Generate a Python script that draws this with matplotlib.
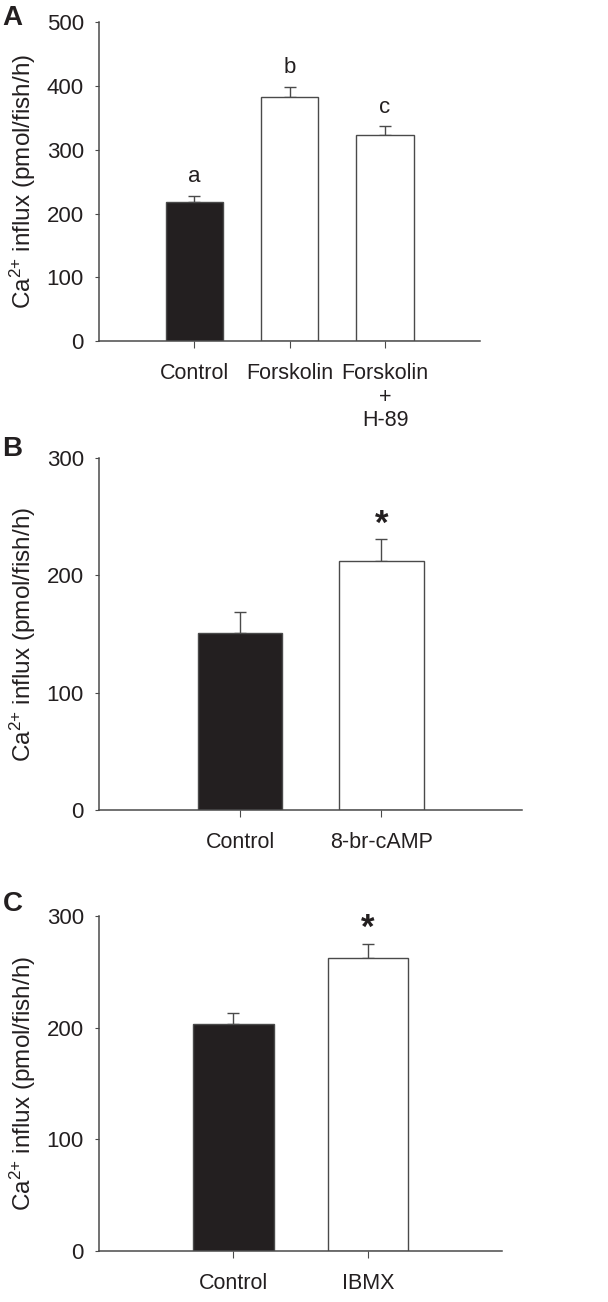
import matplotlib.pyplot as plt
import numpy as np

plt.rcParams["font.family"] = ["Liberation Sans", "DejaVu Sans"]
plt.rcParams["mathtext.fontset"] = "custom"
plt.rcParams["mathtext.rm"] = "Liberation Sans"
plt.rcParams["mathtext.it"] = "Liberation Sans:italic"

INK = "#231f20"
EDGE = "#4a4a4a"

# panel A
a_labels = ["Control", "Forskolin", "Forskolin\n+\nH-89"]
a_means = [218, 382, 323]
a_sem = [10, 17, 14]
a_marks = ["a", "b", "c"]
a_colors = [INK, "white", "white"]

# panel B
b_labels = ["Control", "8-br-cAMP"]
b_means = [151, 212]
b_sem = [18, 19]
b_marks = ["", "*"]
b_colors = [INK, "white"]

# panel C
c_labels = ["Control", "IBMX"]
c_means = [203, 262]
c_sem = [10, 13]
c_marks = ["", "*"]
c_colors = [INK, "white"]

YLABEL = r"Ca$^{2{+}}$ influx (pmol/fish/h)"


def draw_panel(ax, labels, means, sem, marks, colors, ymax, ystep):
    x = np.arange(1, len(labels) + 1)
    ax.bar(x, means, width=0.6, color=colors, edgecolor=EDGE, linewidth=1.0, zorder=2)
    ax.errorbar(x, means, yerr=[np.zeros(len(sem)), sem], fmt="none",
                ecolor=EDGE, elinewidth=1.0, capsize=4, capthick=1.0, zorder=1)
    for xi, m, s, mk in zip(x, means, sem, marks):
        if not mk:
            continue
        if mk == "*":
            ax.annotate(mk, (xi, m + s), xytext=(0, -1), textcoords="offset points",
                        ha="center", va="bottom", fontsize=25, fontweight="bold", color=INK)
        else:
            ax.annotate(mk, (xi, m + s), xytext=(0, 6), textcoords="offset points",
                        ha="center", va="bottom", fontsize=16, color=INK)

    ax.set_xlim(0, len(labels) + 1)
    ax.set_ylim(0, ymax)
    ax.set_yticks(np.arange(0, ymax + 1, ystep))
    ax.set_xticks(x)
    ax.set_xticklabels(labels, fontsize=15.5, color=INK, linespacing=1.15)
    ax.tick_params(axis="y", labelsize=16, labelcolor=INK, length=3, pad=8, color=EDGE)
    ax.tick_params(axis="x", length=5, pad=11, color=EDGE)
    for side in ["top", "right"]:
        ax.spines[side].set_visible(False)
    for side in ["left", "bottom"]:
        ax.spines[side].set_color(EDGE)
        ax.spines[side].set_linewidth(1.1)
    ax.set_ylabel(YLABEL, fontsize=17.5, color=INK, labelpad=6)


fig = plt.figure(figsize=(6.08, 13.02), dpi=100)
ax_a = fig.add_axes([0.163, 0.738, 0.627, 0.245])
ax_b = fig.add_axes([0.163, 0.378, 0.696, 0.270])
ax_c = fig.add_axes([0.163, 0.039, 0.663, 0.2575])

draw_panel(ax_a, a_labels, a_means, a_sem, a_marks, a_colors, 500, 100)
draw_panel(ax_b, b_labels, b_means, b_sem, b_marks, b_colors, 300, 100)
draw_panel(ax_c, c_labels, c_means, c_sem, c_marks, c_colors, 300, 100)

for letter, ypx in [("A", 18), ("B", 449), ("C", 904)]:
    fig.text(0.004, 1 - ypx / 1302, letter, fontsize=20, fontweight="bold",
             color=INK, ha="left", va="center")

fig.savefig("out.png", dpi=100)
